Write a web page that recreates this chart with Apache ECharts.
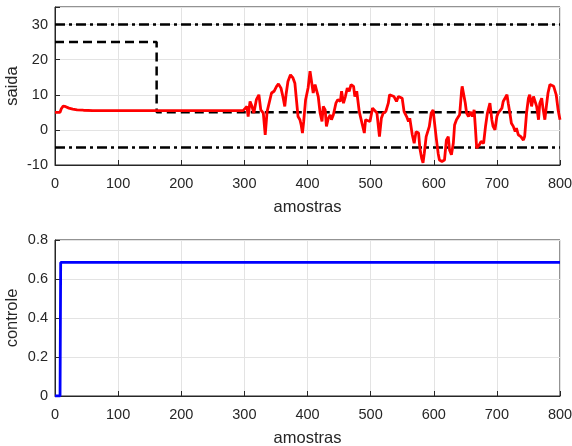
<!DOCTYPE html>
<html><head><meta charset="utf-8">
<script src="https://cdn.jsdelivr.net/npm/echarts@6/dist/echarts.min.js"></script>
<style>html,body{margin:0;padding:0;background:#fff}#c{width:572px;height:446px}</style>
</head><body><div id="c"></div>
<script>
// Top subplot: output (saida)
const saidaPts = [
[0,5],[8,5],[10,6],[13,6.8],[17,6.6],[22,6.2],[28,5.9],[35,5.7],[45,5.6],[60,5.5],[298,5.5],
[304,6.7],[306,3.8],[309,8.1],[312,6.7],[315,4.8],[319,8.6],[323,10],[326,5.7],[330,4.8],[333,-1.4],[336,5.2],[339,5.7],
[343,10.5],[347,11],[351,12.4],[354,13.1],[358,11.9],[361,9.5],[364,6.7],[366,10],[369,13.8],[373,15.7],[377,14.8],
[380,13.3],[382,9.5],[385,3.8],[388,2.9],[390,1.4],[392,-0.9],[394,2.4],[397,8.6],[401,12],[404,16.7],[406,14.3],[409,10.5],
[412,12.9],[415,12.9],[417,9.5],[420,4.8],[423,2.4],[425,6.7],[428,5.7],[430,1],[433,3.3],[436,4.3],[438,2.9],[441,4.3],
[445,7.6],[448,8.6],[452,8.1],[454,11],[457,7.6],[460,9.5],[463,11.9],[466,11],[469,12.9],[473,12.4],[475,9.5],[478,11],
[482,5.2],[487,1.4],[490,-0.9],[492,2.9],[495,3.3],[499,2.4],[503,6.2],[506,6.7],[510,4.8],[514,-1.9],[517,3.3],[520,4.8],
[524,5.2],[528,7.6],[530,10],[533,10.5],[537,9.5],[541,8.1],[544,9.5],[547,10],[550,9],[553,5.2],[557,3.8],[560,2.4],
[562,3.3],[566,-1.4],[569,-3.8],[572,-0.5],[576,-0.9],[578,-5.2],[581,-8.2],[583,-9.4],[585,-6.7],[588,-1.9],[590,-1.4],
[593,1],[596,4.8],[599,5.7],[601,2.4],[604,-2.4],[607,-6.7],[609,-8.6],[613,-9],[617,-8.6],[620,-2.9],[623,-1.9],[625,-5.7],
[628,-7.1],[631,-3.8],[633,1.4],[636,2.9],[638,2.4],[641,4.3],[644,11],[645,12.4],[647,10.5],[650,7.6],[652,4.8],[655,3.8],
[658,5.2],[661,3.8],[664,5.7],[666,0.5],[668,-5.2],[672,-4.3],[675,-3.3],[679,-3.8],[682,1],[685,4.8],[689,7.6],[692,2.9],
[694,1],[697,0],[700,3.8],[702,4.8],[705,4.3],[708,6.2],[710,8.1],[713,8.6],[716,10],[718,7.6],[721,4.3],[723,1.9],[726,1],
[729,-0.5],[731,0.5],[734,-1.4],[738,-1.9],[742,-2.9],[744,-1.9],[747,4.8],[750,9],[752,10],[755,6.7],[758,9.5],[760,10],
[763,6.7],[766,2.9],[768,7.6],[771,9],[773,6.2],[776,2.9],[779,7.6],[781,10.5],[784,12.9],[787,12.4],[790,12.4],[794,10],
[797,5.7],[800,2.9]
];
const refPts = [[0,25],[161,25],[161,5],[800,5]];
const upperLim = [[0,30],[800,30]];
const lowerLim = [[0,-5],[800,-5]];
// Bottom subplot: control (controle)
const controlePts = [[0,0],[8,0],[9,0.685],[800,0.685]];

const txt = '#262626';
const font = 'Liberation Sans, Arial, Helvetica, sans-serif';
function xAx(gi){return {type:'value',gridIndex:gi,min:0,max:800,interval:100,
  name:'amostras',nameLocation:'middle',nameGap:34,nameMoveOverlap:false,
  nameTextStyle:{color:txt,fontSize:16.5,fontFamily:font},
  axisLine:{onZero:false,lineStyle:{color:txt,width:1}},axisTick:{inside:true,length:5,lineStyle:{color:txt}},
  axisLabel:{color:txt,fontSize:14.5,fontFamily:font,margin:11},
  splitLine:{show:true,lineStyle:{color:'#e3e3e3',width:1}}};}
function yAx(gi,min,max,interval,name,gap,fmt){return {type:'value',gridIndex:gi,min:min,max:max,interval:interval,
  name:name,nameLocation:'middle',nameGap:gap,nameMoveOverlap:false,
  nameTextStyle:{color:txt,fontSize:16.5,fontFamily:font},
  axisLine:{show:true,onZero:false,lineStyle:{color:txt,width:1}},axisTick:{show:true,inside:true,length:5,lineStyle:{color:txt}},
  axisLabel:{color:txt,fontSize:14.5,fontFamily:font,margin:7,formatter:fmt},
  splitLine:{show:true,lineStyle:{color:'#e3e3e3',width:1}}};}
const chart = echarts.init(document.getElementById('c'),null,{renderer:'canvas'});
chart.setOption({
  animation:false,
  backgroundColor:'#fff',
  grid:[{left:55,top:7,width:505,height:158,show:true,borderColor:txt,borderWidth:1,containLabel:false,outerBoundsMode:'none'},
        {left:55,top:240,width:505,height:156,show:true,borderColor:txt,borderWidth:1,containLabel:false,outerBoundsMode:'none'}],
  xAxis:[xAx(0),xAx(1)],
  yAxis:[yAx(0,-10,35,10,'saida',34,v=>v>30?'':String(v)),
         yAx(1,0,0.8,0.2,'controle',34,v=>v===0?'0':String(Math.round(v*10)/10))],
  series:[
    {type:'line',xAxisIndex:0,yAxisIndex:0,data:upperLim,symbol:'none',lineStyle:{color:'#000',width:2.5,type:[10,4,3,4]}},
    {type:'line',xAxisIndex:0,yAxisIndex:0,data:lowerLim,symbol:'none',lineStyle:{color:'#000',width:2.5,type:[10,4,3,4]}},
    {type:'line',xAxisIndex:0,yAxisIndex:0,data:refPts,symbol:'none',lineStyle:{color:'#000',width:2.5,type:[9,5]}},
    {type:'line',xAxisIndex:0,yAxisIndex:0,data:saidaPts,symbol:'none',lineStyle:{color:'#ff0000',width:2.8}},
    {type:'line',xAxisIndex:1,yAxisIndex:1,data:controlePts,symbol:'none',lineStyle:{color:'#0000ff',width:2.8}}
  ]
});
</script></body></html>
